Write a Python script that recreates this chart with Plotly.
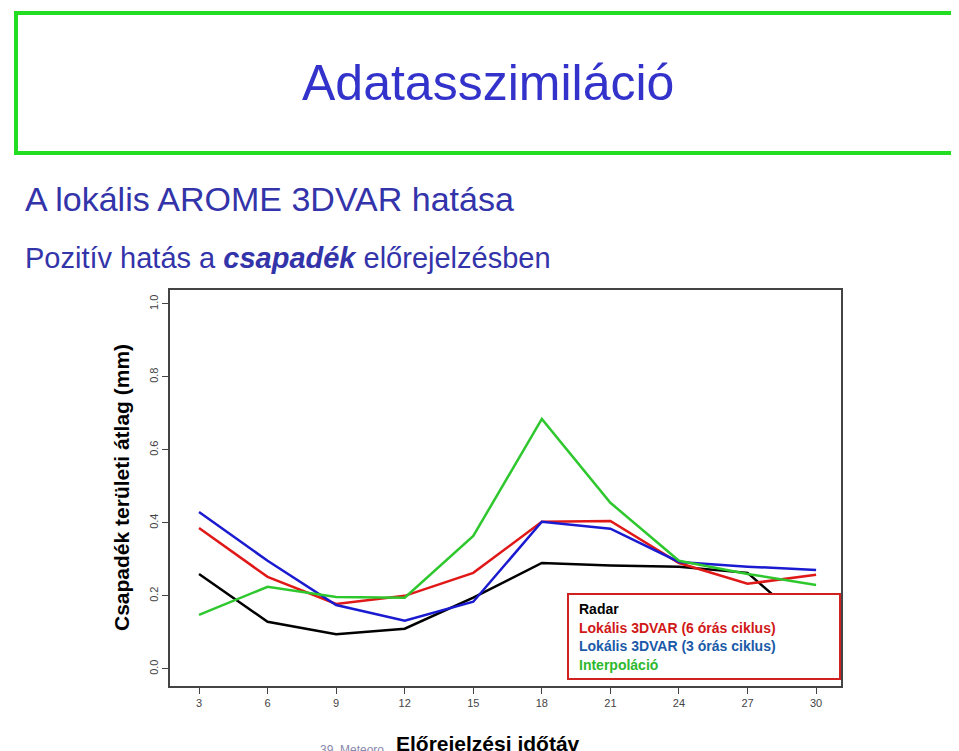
import plotly.graph_objects as go

x = [3, 6, 9, 12, 15, 18, 21, 24, 27, 30]
radar = [0.26, 0.129, 0.095, 0.11, 0.195, 0.29, 0.283, 0.28, 0.263, 0.10]
lok6 = [0.386, 0.252, 0.178, 0.2, 0.263, 0.403, 0.405, 0.29, 0.233, 0.258]
lok3 = [0.43, 0.296, 0.175, 0.132, 0.184, 0.403, 0.384, 0.293, 0.28, 0.271]
interp = [0.148, 0.225, 0.197, 0.195, 0.364, 0.685, 0.455, 0.296, 0.26, 0.23]
yticks = [0.0, 0.2, 0.4, 0.6, 0.8, 1.0]

fig = go.Figure()
for ys, c in [(radar, "black"), (lok6, "#e01818"), (lok3, "#1a1ad0"), (interp, "#2ec82e")]:
    fig.add_trace(go.Scatter(x=x, y=ys, mode="lines", line=dict(color=c, width=2.5),
                             showlegend=False))

W, H = 959, 751
L, R, T, B = 162, 126, 282, 73
PW, PH = W - L - R, H - T - B

def px(v):
    return (v - L) / PW

def py(v):
    return (H - B - v) / PH

fig.update_layout(
    width=W, height=H, margin=dict(l=L, r=R, t=T, b=B),
    paper_bgcolor="white", plot_bgcolor="white",
    font=dict(family="Arial, Liberation Sans", color="#444"),
    xaxis=dict(range=[1.73, 31.09], tickvals=x, ticks="outside", ticklen=6,
               showgrid=False, zeroline=False, showline=True, mirror=True,
               linecolor="#444", linewidth=1.5, tickfont=dict(size=11, color="#444")),
    yaxis=dict(range=[-0.047, 1.038], tickvals=yticks, tickformat=".1f",
               ticks="outside", ticklen=6, tickangle=-90,
               showgrid=False, zeroline=False, showline=True, mirror=True,
               linecolor="#444", linewidth=1.5, tickfont=dict(size=11, color="#444")),
    shapes=[
        dict(type="rect", xref="paper", yref="paper",
             x0=px(8), x1=px(955), y0=py(145), y1=py(5),
             line=dict(color="#22dd22", width=4)),
        dict(type="rect", xref="paper", yref="paper",
             x0=px(560), x1=px(832), y0=py(671), y1=py(586),
             line=dict(color="#d02020", width=2), fillcolor="white", layer="above"),
    ],
)

def ann(text, x0, y0, size, color, xanchor="left", bold=False, angle=0, bg=None):
    fig.add_annotation(text=f"<b>{text}</b>" if bold else text, xref="paper", yref="paper",
                       x=px(x0), y=py(y0), xanchor=xanchor, yanchor="middle",
                       showarrow=False, textangle=angle, bgcolor=bg,
                       font=dict(size=size, color=color, family="Arial, Liberation Sans"))

ann("Adatasszimiláció", 480, 75, 50, "#3333cc", "center")
ann("A lokális AROME 3DVAR hatása", 15, 191, 34, "#3333aa")
ann("Pozitív hatás a <b><i>csapadék</i></b> előrejelzésben", 15, 250, 29, "#3333aa")
ann("Csapadék területi átlag (mm)", 113, 480, 21, "black", "center", bold=True, angle=-90)
ann("39. Meteoro", 310, 742, 12, "#8888aa")
ann("Előrejelzési időtáv", 480, 735, 21, "black", "center", bold=True, bg="white")
for i, (t, c) in enumerate([("Radar", "black"), ("Lokális 3DVAR (6 órás ciklus)", "#d01818"),
                            ("Lokális 3DVAR (3 órás ciklus)", "#1a5aa8"), ("Interpoláció", "#2eb82e")]):
    ann(t, 569, 601 + i*18.5, 14, c, bold=True)

fig.write_html("out.html")
